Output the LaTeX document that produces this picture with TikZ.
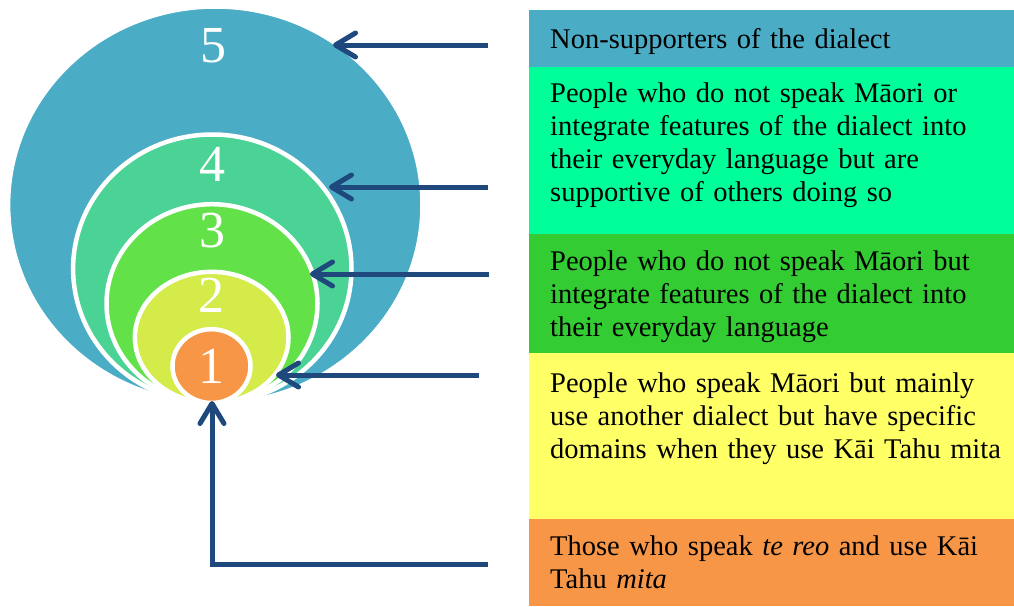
\documentclass[tikz,border=0pt]{standalone}
\usepackage{fontspec}
\setmainfont{Liberation Serif}
\usetikzlibrary{shapes.geometric,arrows.meta}
\definecolor{cfive}{HTML}{4BACC6}
\definecolor{cfour}{HTML}{4AD395}
\definecolor{cthree}{HTML}{62E248}
\definecolor{ctwo}{HTML}{D4EB4A}
\definecolor{cone}{HTML}{F79646}
\definecolor{btwo}{HTML}{00FF99}
\definecolor{bthree}{HTML}{33CC33}
\definecolor{bfour}{HTML}{FFFF66}
\definecolor{arrowblue}{HTML}{1F497D}
\tikzset{
  ring/.style={ellipse, draw=white, line width=4.5pt, inner sep=0pt, outer sep=0pt},
  num/.style={text=white, inner sep=0pt, font=\fontsize{52}{52}\selectfont},
  boxbg/.style={anchor=north west, minimum width=485pt, inner sep=0pt, outer sep=0pt, draw=none},
  txt/.style={anchor=north west, inner sep=0pt, text width=462pt, align=left,
    font=\fontsize{28.5}{33.2}\selectfont},
  pointer/.style={draw=arrowblue, line width=5pt,
    -{Straight Barb[length=20pt, width=24pt, round]}}
}
\begin{document}
\begin{tikzpicture}[x=1pt, y=-1pt]
\useasboundingbox (0,0) rectangle (1014,606);
% nested circles
\node[ring, fill=cfive, minimum width=414.4pt, minimum height=397pt] (c5) at (215.3,205) {};
\node[ring, fill=cfour, minimum width=278.4pt, minimum height=268.5pt] (c4) at (212.3,268.75) {};
\node[ring, fill=cthree, minimum width=211pt, minimum height=198.8pt] (c3) at (212,303.6) {};
\node[ring, fill=ctwo, minimum width=153.6pt, minimum height=131.2pt] (c2) at (211.7,337.4) {};
\node[ring, fill=cone, minimum width=78pt, minimum height=73.8pt] (c1) at (211.5,366.1) {};
% numbers
\node[num] (n5) at (213,46) {5};
\node[num] (n4) at (212,164) {4};
\node[num] (n3) at (212,231) {3};
\node[num] (n2) at (211,295) {2};
\node[num] (n1) at (211,366) {1};
% boxes
\node[boxbg, fill=cfive, minimum height=57pt] (b1) at (529,10) {};
\node[boxbg, fill=btwo, minimum height=167pt] (b2) at (529,67) {};
\node[boxbg, fill=bthree, minimum height=119pt] (b3) at (529,234) {};
\node[boxbg, fill=bfour, minimum height=166pt] (b4) at (529,353) {};
\node[boxbg, fill=cone, minimum height=87pt] (b5) at (529,519) {};
% texts
\node[txt] (t1) at (550,25) {\strut Non-supporters of the dialect};
\node[txt] (t2) at (550,78.7) {\strut People who do not speak Māori or\\ integrate features of the dialect into\\ their everyday language but are\\ supportive of others doing so};
\node[txt] (t3) at (550,246.7) {\strut People who do not speak Māori but\\ integrate features of the dialect into\\ their everyday language};
\node[txt] (t4) at (550,368.7) {\strut People who speak Māori but mainly\\ use another dialect but have specific\\ domains when they use Kāi Tahu mita};
\node[txt] (t5) at (550,531.7) {\strut Those who speak \textit{te reo} and use Kāi\\ Tahu \textit{mita}};
% arrow ends
\coordinate (s5) at (488,45);   \coordinate (e5) at (333,45);
\coordinate (s4) at (488,187);  \coordinate (e4) at (329,187);
\coordinate (s3) at (489,274);  \coordinate (e3) at (310,274);
\coordinate (s2) at (479,375);  \coordinate (e2) at (276,375);
\coordinate (s1) at (488,564);  \coordinate (e1) at (212,401);
\draw[pointer] (s5) -- (e5);
\draw[pointer] (s4) -- (e4);
\draw[pointer] (s3) -- (e3);
\draw[pointer] (s2) -- (e2);
\draw[pointer] (s1) -| (e1);
\end{tikzpicture}
\end{document}
